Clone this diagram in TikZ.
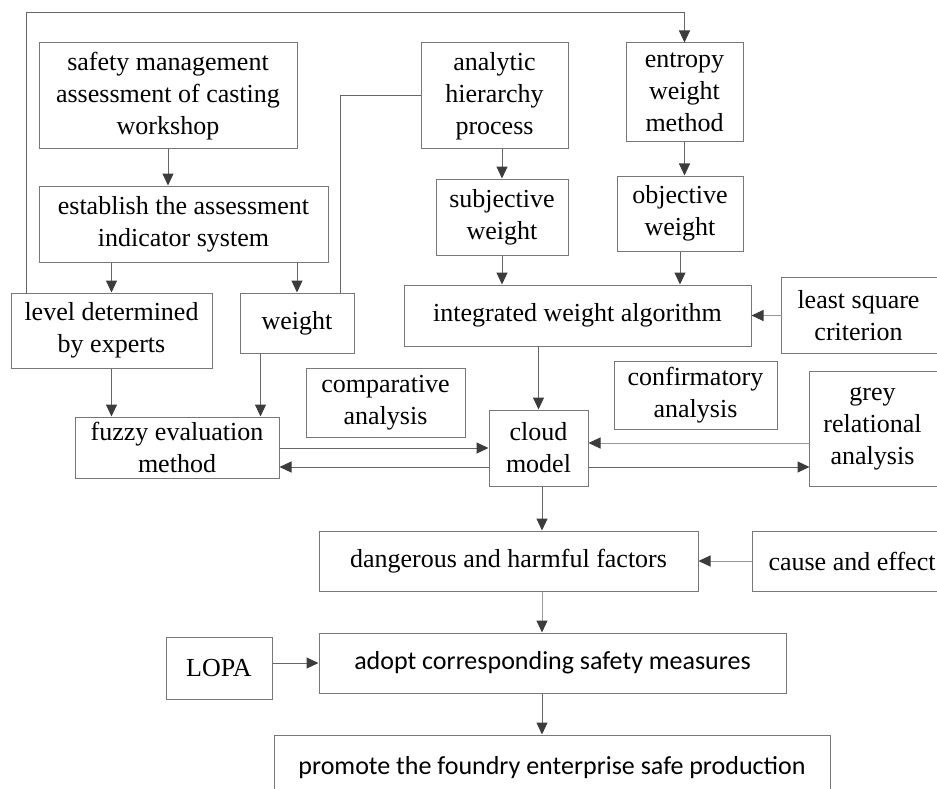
\documentclass[tikz,border=0pt]{standalone}
\usepackage{fontspec}
\setmainfont{Liberation Serif}
\newfontfamily\tmsfont{Liberation Serif}
\newfontfamily\calfont{Carlito}
\usetikzlibrary{arrows.meta,calc}
\definecolor{boxc}{HTML}{777777}
\definecolor{linec}{HTML}{666666}
\definecolor{lightc}{HTML}{999999}
\definecolor{tipc}{HTML}{3C3C3C}
\begin{document}
\begin{tikzpicture}[x=1pt,y=-1pt,
  box/.style={draw=boxc, line width=1pt, inner sep=0pt, align=center,
    font=\tmsfont\fontsize{26}{32}\selectfont},
  openbox/.style={box, draw=none},
  frame/.style={draw=boxc, line width=1pt},
  sbox/.style={box, font=\calfont\fontsize{26}{32}\selectfont},
  arr/.style={draw=linec, line width=1pt, -{Triangle[length=12pt,width=11pt,color=tipc]}},
  ln/.style={draw=linec, line width=1pt}]
\useasboundingbox (0,0) rectangle (937,789);
\clip (0,0) rectangle (937,789);
% nodes
\node[box, minimum width=258pt, minimum height=106pt] (safety) at (168,96) {safety management\\assessment of casting\\workshop};
\node[box, minimum width=289pt, minimum height=76pt] (establish) at (183.5,224) {establish the assessment\\indicator system};
\node[box, minimum width=147pt, minimum height=106pt] (ahp) at (494.5,96) {analytic\\hierarchy\\process};
\node[box, minimum width=117pt, minimum height=99pt] (entropy) at (684.5,92.5) {entropy\\weight\\method};
\node[box, minimum width=132pt, minimum height=76pt] (subj) at (502,217) {subjective\\weight};
\node[box, minimum width=126pt, minimum height=75pt] (obj) at (680,213.5) {objective\\weight};
\node[box, minimum width=201pt, minimum height=75pt] (level) at (111.5,330.5) {level determined\\by experts};
\node[box, minimum width=114pt, minimum height=60pt] (weight) at (297,323) {weight};
\node[box, minimum width=347pt, minimum height=61pt] (integ) at (577.5,315.5) {integrated weight algorithm};
\node[openbox, minimum width=153pt, minimum height=75pt] (least) at (858.5,315.5) {least square\\criterion};
\draw[frame] (least.north west) rectangle ($(least.south east)+(20,0)$);
\node[box, minimum width=159pt, minimum height=69pt] (comp) at (385.5,402.5) {comparative\\analysis};
\node[box, minimum width=204pt, minimum height=61pt] (fuzzy) at (177,447.5) {fuzzy evaluation\\method};
\node[box, minimum width=99pt, minimum height=76pt] (cloud) at (538.5,448) {cloud\\model};
\node[box, minimum width=163pt, minimum height=68pt] (confirm) at (695.5,395) {confirmatory\\analysis};
\node[openbox, minimum width=125pt, minimum height=114pt] (grey) at (872.5,429) {grey\\relational\\analysis};
\draw[frame] (grey.north west) rectangle ($(grey.south east)+(20,0)$);
\node[box, minimum width=379pt, minimum height=60pt] (danger) at (508.5,561) {dangerous and harmful factors};
\node[box, minimum width=200pt, minimum height=60pt] (cause) at (852,561) {cause and effect};
\node[box, minimum width=106pt, minimum height=62pt] (lopa) at (219,668) {LOPA};
\node[sbox, minimum width=467pt, minimum height=60pt] (adopt) at (552.5,663) {adopt corresponding safety measures};
\node[sbox, minimum width=556pt, minimum height=65pt] (promote) at (552,767.5) {promote the foundry enterprise safe production};
% connectors
\coordinate (ltop) at (26,13);
\draw[arr] (level.north -| ltop) -- (ltop) -| (entropy.north);
\coordinate (ak) at (340,96);
\draw[ln] (ahp.west) -- (ak) -- (ak |- weight.north);
\draw[arr] (safety.south) -- (safety.south |- establish.north);
\draw[arr] (level.north |- establish.south) -- (level.north);
\draw[arr] (weight.north |- establish.south) -- (weight.north);
\draw[arr] (level.south) -- (level.south |- fuzzy.north);
\coordinate (wk) at ($(weight.south west)+(21,0)$);
\draw[arr] (wk) -- (wk |- fuzzy.north);
\draw[arr] (subj.north |- ahp.south) -- (subj.north);
\draw[arr] (entropy.south) -- (entropy.south |- obj.north);
\draw[arr] (subj.south) -- (subj.south |- integ.north);
\draw[arr] (obj.south) -- (obj.south |- integ.north);
\draw[arr, draw=lightc] (least.west) -- (integ.east);
\draw[arr] (cloud.north |- integ.south) -- (cloud.north);
\draw[arr] (cloud.west -| fuzzy.east) -- (cloud.west);
\coordinate (c1) at ($(cloud.west)+(0,19)$);
\draw[arr] (c1) -- (c1 -| fuzzy.east);
\coordinate (c2) at ($(cloud.east)+(0,-5)$);
\draw[arr, draw=lightc] (c2 -| grey.west) -- (c2);
\coordinate (c3) at ($(cloud.east)+(0,19)$);
\draw[arr] (c3) -- (c3 -| grey.west);
\coordinate (dk) at (542,0);
\draw[arr] (dk |- cloud.south) -- (dk |- danger.north);
\draw[arr, draw=lightc] (dk |- danger.south) -- (dk |- adopt.north);
\draw[arr] (dk |- adopt.south) -- (dk |- promote.north);
\draw[arr, draw=lightc] (cause.west) -- (danger.east);
\draw[arr] (lopa.east |- adopt.west) -- (adopt.west);
\end{tikzpicture}
\end{document}
